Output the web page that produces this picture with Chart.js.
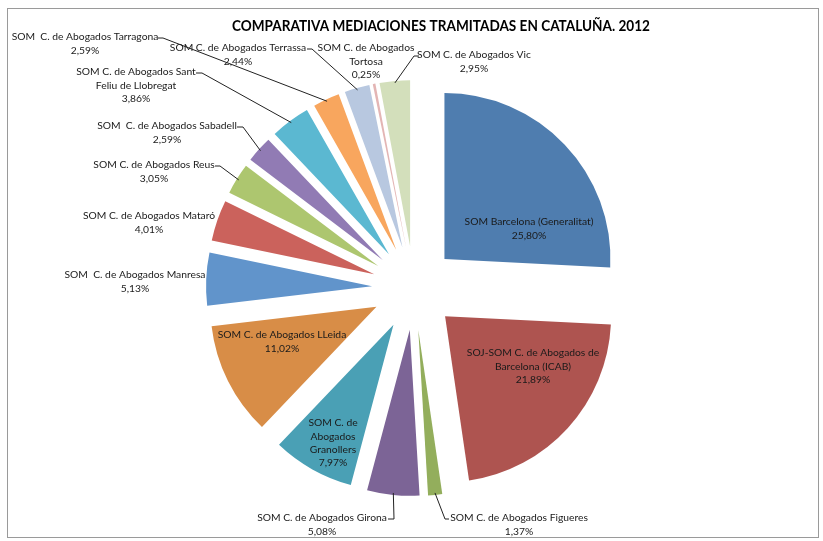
<!DOCTYPE html>
<html>
<head>
<meta charset="utf-8">
<script src="https://cdn.jsdelivr.net/npm/chart.js@4.4.0/dist/chart.umd.min.js"></script>
<style>
  html, body { margin: 0; padding: 0; background: #fff; }
  #wrap { width: 823px; height: 541px; }
</style>
</head>
<body>
<div id="wrap"><canvas id="pieChart" width="823" height="541"></canvas></div>
<script>
const chartTitle = "COMPARATIVA MEDIACIONES TRAMITADAS EN CATALUÑA. 2012";

const centros = [
    "SOM Barcelona (Generalitat)",
    "SOJ-SOM C. de Abogados de Barcelona (ICAB)",
    "SOM C. de Abogados Figueres",
    "SOM C. de Abogados Girona",
    "SOM C. de Abogados Granollers",
    "SOM C. de Abogados LLeida",
    "SOM  C. de Abogados Manresa",
    "SOM C. de Abogados Mataró",
    "SOM C. de Abogados Reus",
    "SOM  C. de Abogados Sabadell",
    "SOM C. de Abogados Sant Feliu de Llobregat",
    "SOM  C. de Abogados Tarragona",
    "SOM C. de Abogados Terrassa",
    "SOM C. de Abogados Tortosa",
    "SOM C. de Abogados Vic"
];

const porcentajes = [25.80, 21.89, 1.37, 5.08, 7.97, 11.02, 5.13, 4.01, 3.05, 2.59, 3.86, 2.59, 2.44, 0.25, 2.95];

// how each label is broken into lines in the picture
const lineas = [
    ["SOM Barcelona (Generalitat)"],
    ["SOJ-SOM C. de Abogados de", "Barcelona (ICAB)"],
    ["SOM C. de Abogados Figueres"],
    ["SOM C. de Abogados Girona"],
    ["SOM C. de", "Abogados", "Granollers"],
    ["SOM C. de Abogados LLeida"],
    ["SOM  C. de Abogados Manresa"],
    ["SOM C. de Abogados Mataró"],
    ["SOM C. de Abogados Reus"],
    ["SOM  C. de Abogados Sabadell"],
    ["SOM C. de Abogados Sant", "Feliu de Llobregat"],
    ["SOM  C. de Abogados Tarragona"],
    ["SOM C. de Abogados Terrassa"],
    ["SOM C. de Abogados", "Tortosa"],
    ["SOM C. de Abogados Vic"]
];

const colores = ["#4F7DAF", "#AE5450", "#93AE5C", "#7C6496", "#4AA0B5", "#D88D47", "#6194CB",
    "#CB625C", "#ADC66F", "#917BB4", "#5BB8D1", "#F8A65E", "#B8C8E0", "#E3B5B4", "#D3DFBB"];

// label placement: centre x, first line y, and elbow points of the leader line (text side first)
const posEtiquetas = [
    { x: 529, y: 222, codo: null },
    { x: 533, y: 353, codo: null },
    { x: 519, y: 518, codo: [[449, 519], [445, 519]] },
    { x: 322, y: 518, codo: [[388, 519], [394, 519]] },
    { x: 333, y: 423, codo: null },
    { x: 282, y: 335, codo: null },
    { x: 135, y: 275, codo: null },
    { x: 149, y: 216, codo: null },
    { x: 154, y: 165, codo: [[215, 166], [220, 166]] },
    { x: 167, y: 126, codo: [[237, 127], [243, 127]] },
    { x: 136, y: 72, codo: [[196, 73], [202, 73]] },
    { x: 85, y: 37, codo: [[158, 38], [163, 38]] },
    { x: 238, y: 48, codo: [[307, 49], [312, 49]] },
    { x: 366, y: 48, codo: null },
    { x: 474, y: 55, codo: [[419, 56], [414, 56]] }
];

const EXPLODE = 42;
const LABEL_FONT = "10.3px Lato, 'Open Sans', sans-serif";

function formatPct(v) {
    return v.toFixed(2).replace(".", ",") + "%";
}

const explodedPie = {
    id: "explodedPie",
    beforeDraw(chart) {
        const ctx = chart.ctx;
        ctx.save();
        ctx.fillStyle = "#fff";
        ctx.fillRect(0, 0, chart.width, chart.height);
        ctx.strokeStyle = "#9A9A9A";
        ctx.lineWidth = 1;
        ctx.strokeRect(7.5, 8.5, 811, 529);
        ctx.fillStyle = "#000";
        ctx.font = "bold 15px Lato, 'Open Sans', sans-serif";
        ctx.textAlign = "center";
        ctx.textBaseline = "middle";
        // squeeze the title to the width of the original (narrow font)
        const w = ctx.measureText(chartTitle).width;
        const sx = Math.min(1, 418 / w);
        ctx.translate(441, 26);
        ctx.scale(sx, 1);
        ctx.fillText(chartTitle, 0, 0);
        ctx.restore();
    },
    beforeDatasetDraw(chart, args) {
        const ctx = chart.ctx;
        args.meta.data.forEach(function (arc) {
            const mid = (arc.startAngle + arc.endAngle) / 2;
            ctx.save();
            ctx.translate(Math.cos(mid) * EXPLODE, Math.sin(mid) * EXPLODE);
            arc.draw(ctx);
            ctx.restore();
        });
        return false;
    },
    afterDatasetsDraw(chart) {
        const ctx = chart.ctx;
        const meta = chart.getDatasetMeta(0);
        ctx.save();
        ctx.font = LABEL_FONT;
        ctx.textAlign = "center";
        ctx.textBaseline = "middle";
        meta.data.forEach(function (arc, i) {
            const pos = posEtiquetas[i];
            const texto = lineas[i].concat([formatPct(porcentajes[i])]);
            ctx.fillStyle = "#1a1a1a";
            texto.forEach(function (t, k) {
                ctx.fillText(t, pos.x, pos.y + k * 13.3);
            });
            if (pos.codo) {
                const mid = (arc.startAngle + arc.endAngle) / 2;
                const r = arc.outerRadius + EXPLODE;
                ctx.beginPath();
                ctx.strokeStyle = "#222";
                ctx.lineWidth = 1;
                ctx.moveTo(pos.codo[0][0], pos.codo[0][1]);
                for (let k = 1; k < pos.codo.length; k++) ctx.lineTo(pos.codo[k][0], pos.codo[k][1]);
                ctx.lineTo(arc.x + Math.cos(mid) * (r - 2), arc.y + Math.sin(mid) * (r - 2));
                ctx.stroke();
            }
        });
        ctx.restore();
    }
};

new Chart(document.getElementById("pieChart"), {
    type: "pie",
    data: {
        labels: centros,
        datasets: [{
            data: porcentajes,
            backgroundColor: colores,
            borderWidth: 0
        }]
    },
    options: {
        responsive: false,
        animation: false,
        events: [],
        radius: 166,
        layout: { padding: { left: 5, right: 0, top: 36, bottom: 1 } },
        plugins: {
            legend: { display: false },
            tooltip: { enabled: false }
        }
    },
    plugins: [explodedPie]
});
</script>
</body>
</html>
